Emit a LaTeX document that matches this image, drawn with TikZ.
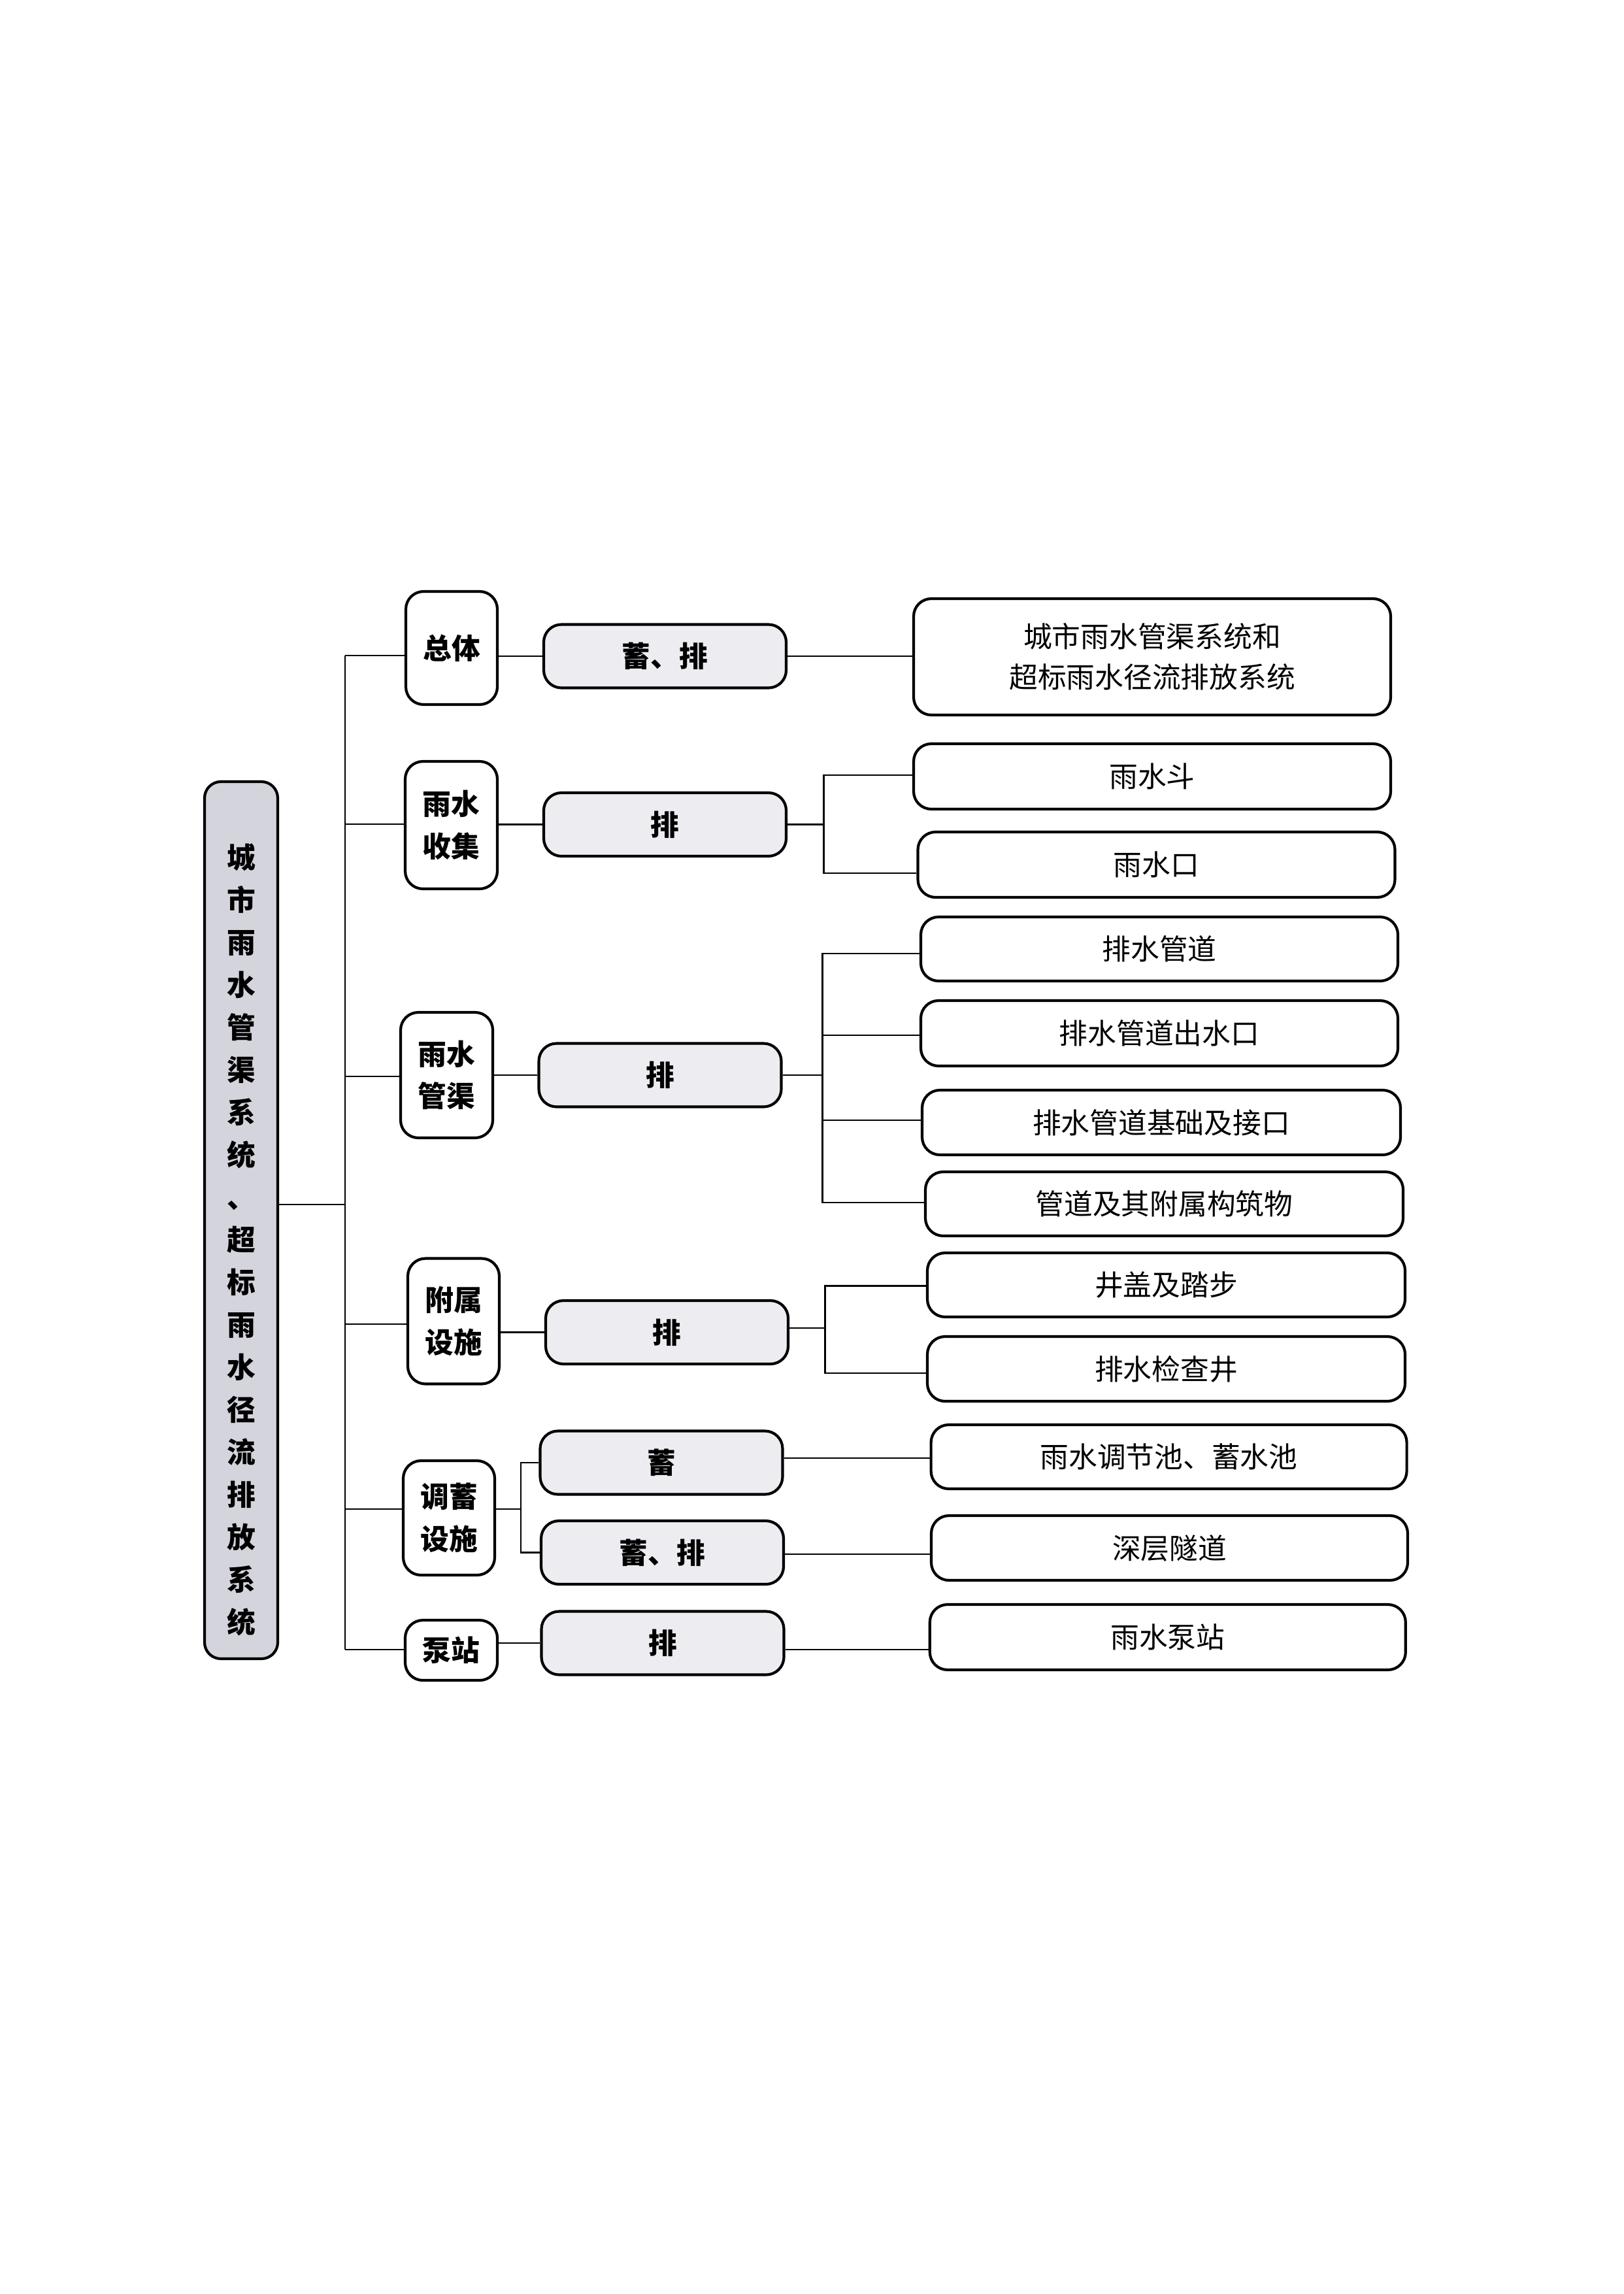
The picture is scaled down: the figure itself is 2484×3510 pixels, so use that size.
\documentclass[tikz,border=0pt]{standalone}
\usepackage{fontspec}
\setmainfont{Noto Sans CJK SC}
\definecolor{rootgray}{RGB}{212,212,221}
\definecolor{ltwogray}{RGB}{236,236,241}
\tikzset{
  bx/.style={draw, line width=1pt, rounded corners=6.5pt, inner sep=0pt, align=center},
  sz/.style n args={2}{minimum width=#1*0.24pt, minimum height=#2*0.24pt},
  rootbox/.style={bx, fill=rootgray, rounded corners=6pt},
  roottext/.style={align=center, font=\fontsize{10.5pt}{15.6pt}\selectfont\bfseries},
  lone/.style={bx, fill=white, font=\fontsize{10.5pt}{15.5pt}\selectfont\bfseries},
  ltwo/.style={bx, fill=ltwogray, sz={371}{97}, font=\fontsize{10.5pt}{15pt}\selectfont\bfseries},
  lthree/.style={bx, fill=white, font=\fontsize{10.5pt}{14.9pt}\selectfont},
  conn/.style={line width=0.6pt}
}
\begin{document}
\begin{tikzpicture}[x=0.24pt,y=-0.24pt]
\useasboundingbox (0,0) rectangle (2484,3510);

% root
\node[rootbox, sz={112}{1342}] (root) at (369,1867) {};
\node[roottext] (roott) at (369,1897) {城\\市\\雨\\水\\管\\渠\\系\\统\\、\\超\\标\\雨\\水\\径\\流\\排\\放\\系\\统};

% level 1
\node[lone, sz={140}{173}] (zt) at (691,991.5) {总体};
\node[lone, sz={141}{195}] (ys) at (690.5,1262.5) {雨水\\收集};
\node[lone, sz={141}{192}] (gq) at (683.5,1645) {雨水\\管渠};
\node[lone, sz={140}{192}] (fs) at (694,2021.5) {附属\\设施};
\node[lone, sz={140}{175}] (tx) at (687,2322.5) {调蓄\\设施};
\node[lone, sz={141}{92}] (bz) at (690.5,2525) {泵站};

% level 2
\node[ltwo] (a1) at (1017.5,1004) {蓄、排};
\node[ltwo] (a2) at (1017.5,1261.5) {排};
\node[ltwo] (a3) at (1010,1645) {排};
\node[ltwo] (a4) at (1020.5,2038.5) {排};
\node[ltwo] (a5) at (1012,2238) {蓄};
\node[ltwo] (a6) at (1013.5,2375.5) {蓄、排};
\node[ltwo] (a7) at (1014,2514) {排};

% level 3
\node[lthree, sz={730}{178}] (b1) at (1763,1005) {城市雨水管渠系统和\\超标雨水径流排放系统};
\node[lthree, sz={730}{100}] (b2) at (1763,1188) {雨水斗};
\node[lthree, sz={730}{100}] (b3) at (1769.5,1323) {雨水口};
\node[lthree, sz={730}{98}] (b4) at (1774,1452) {排水管道};
\node[lthree, sz={730}{100}] (b5) at (1774,1581) {排水管道出水口};
\node[lthree, sz={732}{99}] (b6) at (1777,1717.5) {排水管道基础及接口};
\node[lthree, sz={731}{98}] (b7) at (1781.5,1842) {管道及其附属构筑物};
\node[lthree, sz={731}{98}] (b8) at (1784.5,1966) {井盖及踏步};
\node[lthree, sz={731}{99}] (b9) at (1784.5,2094.5) {排水检查井};
\node[lthree, sz={728}{98}] (b10) at (1788.6,2229) {雨水调节池、蓄水池};
\node[lthree, sz={729}{99}] (b11) at (1789.5,2368.5) {深层隧道};
\node[lthree, sz={728}{100}] (b12) at (1786.8,2505) {雨水泵站};

% trunk coordinates
\coordinate (j0) at (528,1843);
\coordinate (j1) at (528,1003);
\coordinate (j2) at (528,1261);
\coordinate (j3) at (528,1647);
\coordinate (j4) at (528,2026);
\coordinate (j5) at (528,2309);
\coordinate (j6) at (528,2524);

% root to trunk
\draw[conn] (root.east |- j0) -- (j0);
\draw[conn] (j1) -- (j6);
\draw[conn] (j1) -- (zt.west |- j1);
\draw[conn] (j2) -- (ys.west |- j2);
\draw[conn] (j3) -- (gq.west |- j3);
\draw[conn] (j4) -- (fs.west |- j4);
\draw[conn] (j5) -- (tx.west |- j5);
\draw[conn] (j6) -- (bz.west |- j6);

% level 1 to level 2
\draw[conn] (zt.east |- a1.west) -- (a1.west);
\draw[conn] (ys.east |- a2.west) -- (a2.west);
\draw[conn] (gq.east |- a3.west) -- (a3.west);
\draw[conn] (fs.east |- a4.west) -- (a4.west);
\coordinate (k5) at (797,2309);
\draw[conn] (tx.east |- k5) -- (k5);
\draw[conn] (a5.west) -| (k5) |- (a6.west);
\draw[conn] (bz.east |- a7.west) -- (a7.west);

% level 2 to level 3
\draw[conn] (a1.east) -- (b1.west |- a1.east);

\coordinate (m2a) at (1260.5,1186);
\coordinate (m2b) at (1260.5,1336);
\draw[conn] (a2.east) -- (a2.east -| m2a);
\draw[conn] (b2.west |- m2a) -- (m2a) -- (m2b) -- (b3.west |- m2b);

\coordinate (m3a) at (1258.5,1459);
\coordinate (m3b) at (1258.5,1584);
\coordinate (m3c) at (1258.5,1714);
\coordinate (m3d) at (1258.5,1840);
\draw[conn] (a3.east) -- (a3.east -| m3a);
\draw[conn] (b4.west |- m3a) -- (m3a) -- (m3d) -- (b7.west |- m3d);
\draw[conn] (m3b) -- (b5.west |- m3b);
\draw[conn] (m3c) -- (b6.west |- m3c);

\coordinate (m4a) at (1262.5,1967.5);
\coordinate (m4b) at (1262.5,2101);
\coordinate (m4c) at (1262.5,2032);
\draw[conn] (a4.east |- m4c) -- (m4c);
\draw[conn] (b8.west |- m4a) -- (m4a) -- (m4b) -- (b9.west |- m4b);

\coordinate (r5) at (1300,2231);
\coordinate (r6) at (1300,2378);
\coordinate (r7) at (1300,2524);
\draw[conn] (a5.east |- r5) -- (b10.west |- r5);
\draw[conn] (a6.east |- r6) -- (b11.west |- r6);
\draw[conn] (a7.east |- r7) -- (b12.west |- r7);
\end{tikzpicture}
\end{document}
